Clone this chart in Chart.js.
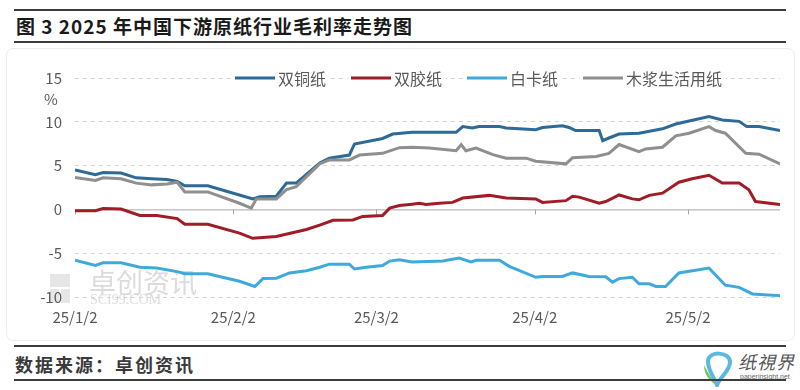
<!DOCTYPE html>
<html>
<head>
<meta charset="utf-8">
<script src="https://cdn.jsdelivr.net/npm/chart.js@4.4.1/dist/chart.umd.min.js"></script>
<style>
    body { margin: 0; background: #fff; width: 800px; height: 390px; position: relative; overflow: hidden;
           font-family: "Noto Sans CJK SC", "Noto Sans", sans-serif; }
    .rule { position: absolute; left: 14px; width: 772px; height: 2px; background: #3c3c3c; }
    #title { position: absolute; left: 16px; top: 13px; font-size: 19px; letter-spacing: 1px; font-weight: bold; color: #1a1a1a; line-height: 26px; }
    #frame { position: absolute; left: 6px; top: 48px; width: 787px; height: 291px; border: 1px solid #ededed; border-radius: 7px; }
    #chartBox { position: absolute; left: 0; top: 45px; width: 800px; height: 300px; }
    #source { position: absolute; left: 15px; top: 351px; font-size: 18px; letter-spacing: 2px; font-weight: bold; color: #3a3a3a; line-height: 26px; }
    #logo { position: absolute; left: 700px; top: 349px; width: 95px; height: 38px; }
    #logoText { position: absolute; left: 738px; top: 350px; font-size: 18px; letter-spacing: 1px; color: #555; font-style: italic; line-height: 22px; }
    #logoUrl { position: absolute; left: 740px; top: 373px; font-size: 7px; color: #666; font-family: "Liberation Sans", sans-serif; }
</style>
</head>
<body>
<div class="rule" style="top:9px"></div>
<div id="title">图 3 2025 年中国下游原纸行业毛利率走势图</div>
<div class="rule" style="top:41px"></div>
<div id="frame"></div>
<div id="chartBox"><canvas id="marginChart" width="800" height="300"></canvas></div>
<div class="rule" style="top:345px"></div>
<div id="source">数据来源：卓创资讯</div>
<svg id="logo" viewBox="0 0 95 38">
    <path d="M8 12 C8 2, 30 2, 30 13 C30 22, 20 28, 17 36 C14 28, 8 22, 8 12 Z" fill="none" stroke="#5bb8e0" stroke-width="4"/>
    <path d="M4 16 C8 24, 12 30, 16 36 C10 32, 4 26, 4 16 Z" fill="#7cc45a"/>
</svg>
<div id="logoText">纸視界</div>
<div id="logoUrl">paperinsight.net</div>
<div class="rule" style="top:379px"></div>

<script>
// days counted from 2025-01-02
const xTickDays = [0, 31, 59, 90, 120];
const xTickLabels = ['25/1/2', '25/2/2', '25/3/2', '25/4/2', '25/5/2'];
const seriesNames = ['双铜纸', '双胶纸', '白卡纸', '木浆生活用纸'];

const tongDays = [0, 4, 5.5, 9, 12, 15, 18, 20, 21.5, 26, 32, 34.8, 36.2, 39.4, 41.4, 43.3, 47.9, 49.8, 53.7, 54.7,
    60.2, 62.2, 66, 74.6, 75.9, 77.8, 79.1, 83.1, 84.4, 90.2, 91.5, 95.4, 96.7, 98, 102.6, 103.3, 104.5, 106.5, 110.4, 115,
    117.6, 120.2, 124.1, 126.7, 130, 131.5, 133.9, 138];
const tongVals = [4.5, 3.95, 4.2, 4.15, 3.6, 3.5, 3.4, 3.2, 2.7, 2.7, 1.67, 1.2, 1.45, 1.5, 3.0, 3.0, 5.3, 5.85, 6.2, 7.45,
    8.1, 8.6, 8.8, 8.8, 9.45, 9.3, 9.45, 9.45, 9.3, 9.1, 9.35, 9.55, 9.35, 9.0, 9.0, 7.85, 8.15, 8.6, 8.7, 9.2,
    9.75, 10.1, 10.6, 10.2, 10.05, 9.45, 9.45, 9.0];

const jiaoDays = [0, 4, 5.5, 9, 12.7, 16, 20, 21.5, 26, 32.2, 34.8, 39.4, 45.3, 47.9, 50.5, 54.4, 56.3, 60.2, 61.6, 63.5,
    66, 67.4, 68.7, 71.3, 73.9, 75.9, 81.1, 84.4, 90.2, 91.5, 96.1, 97.4, 98.7, 102.6, 103.9, 106.5, 109.1, 110.4, 112.4, 115,
    118.2, 120.8, 124.1, 126.7, 130, 131.9, 133.2, 138];
const jiaoVals = [-0.15, -0.15, 0.1, 0.05, -0.7, -0.7, -1.05, -1.7, -1.7, -2.7, -3.3, -3.1, -2.3, -1.8, -1.25, -1.2, -0.8, -0.7, 0.15, 0.45,
    0.6, 0.7, 0.55, 0.7, 0.8, 1.3, 1.6, 1.3, 1.2, 0.8, 1.0, 1.5, 1.4, 0.7, 0.9, 1.65, 1.2, 1.1, 1.6, 1.85,
    3.1, 3.5, 3.9, 3.0, 3.0, 2.25, 0.9, 0.55];

const baikaDays = [0, 4, 5.5, 9, 12.7, 16, 20, 21.5, 26, 32.2, 35.2, 36.8, 39.4, 42, 45.3, 47.9, 49.8, 53.7, 54.7, 57,
    60.2, 61.6, 63.5, 66, 72, 75.2, 77.5, 78.5, 83.1, 85, 90.2, 91.5, 95.4, 97.4, 100.6, 103.9, 105.2, 106.5, 109.1, 110.4,
    112.4, 113.7, 115.6, 118.2, 124.1, 127.3, 130, 132.6, 138];
const baikaVals = [-5.8, -6.4, -6.1, -6.1, -6.6, -6.7, -7.1, -7.35, -7.35, -8.2, -8.8, -7.9, -7.85, -7.25, -7.0, -6.6, -6.25, -6.25, -6.8, -6.6,
    -6.4, -5.9, -5.75, -6.0, -5.9, -5.55, -6.0, -5.8, -5.8, -6.5, -7.75, -7.65, -7.65, -7.25, -7.65, -7.7, -8.3, -7.9, -7.75, -8.5,
    -8.5, -8.8, -8.8, -7.25, -6.7, -8.65, -8.9, -9.65, -9.85];

const mujiangDays = [0, 4, 5.5, 9, 12, 15, 18, 20, 21.5, 26, 32.2, 34.5, 35.5, 39.4, 41.4, 43.3, 47.9, 49.8, 53.7, 55.7,
    60.2, 63.5, 66, 69.4, 74.6, 75.6, 76.5, 78.5, 81.8, 84.4, 88.3, 90.2, 96.1, 97.4, 102, 104.5, 106.5, 110.4, 111.7, 115,
    117.6, 120.2, 124.1, 125.4, 127.3, 131.3, 133.9, 138];
const mujiangVals = [3.65, 3.3, 3.6, 3.5, 3.0, 2.8, 2.9, 3.1, 2.0, 2.0, 0.7, 0.15, 1.2, 1.2, 2.25, 2.6, 5.2, 5.65, 5.65, 6.2,
    6.4, 7.05, 7.1, 7.0, 6.7, 7.4, 6.7, 7.0, 6.25, 5.85, 5.85, 5.5, 5.2, 5.9, 6.05, 6.4, 7.4, 6.6, 6.9, 7.1,
    8.4, 8.7, 9.45, 9.0, 8.7, 6.4, 6.3, 5.2];

const colors = ['#2d6a96', '#a01c26', '#3eaadc', '#8f8f8f'];
const textColor = '#595959';
const fontFamily = '"Noto Sans CJK SC", "Noto Sans", sans-serif';

function toPoints(days, vals) {
    return days.map((d, i) => ({ x: d, y: vals[i] }));
}

// watermark, zero line with month ticks, the "%" unit and the legend
const backdrop = {
    id: 'backdrop',
    beforeDraw(chart) {
        const { ctx } = chart;
        ctx.save();
        ctx.fillStyle = '#e6e6e6';
        ctx.fillRect(50, 229, 20, 13);
        ctx.fillRect(50, 244, 9, 14);
        ctx.fillRect(61, 244, 9, 14);
        ctx.fillStyle = '#dcdcdc';
        ctx.textBaseline = 'middle';
        ctx.font = '27px ' + fontFamily;
        ctx.fillText('卓创资讯', 89, 238);
        ctx.font = '14px "Liberation Serif", serif';
        ctx.fillText('SCI99.COM', 90, 255);
        ctx.restore();
    },
    beforeDatasetsDraw(chart) {
        const { ctx, chartArea, scales } = chart;
        ctx.save();
        const y0 = scales.y.getPixelForValue(0);
        ctx.strokeStyle = '#a6a6a6';
        ctx.lineWidth = 1;
        ctx.beginPath();
        ctx.moveTo(chartArea.left, y0 + 0.5);
        ctx.lineTo(chartArea.right, y0 + 0.5);
        xTickDays.forEach(d => {
            const x = Math.round(scales.x.getPixelForValue(d)) + 0.5;
            ctx.moveTo(x, y0);
            ctx.lineTo(x, y0 + 5);
        });
        ctx.stroke();
        ctx.restore();
    },
    afterDraw(chart) {
        const { ctx, scales } = chart;
        ctx.save();
        ctx.font = '15px ' + fontFamily;
        ctx.fillStyle = textColor;
        ctx.textAlign = 'center';
        ctx.textBaseline = 'middle';
        ctx.fillText('%', 51, scales.y.getPixelForValue(12.6));
        // legend sitting on the top gridline
        const y = scales.y.getPixelForValue(15);
        ctx.font = '16px ' + fontFamily;
        ctx.textAlign = 'left';
        let x = 235;
        chart.data.datasets.forEach(ds => {
            const w = ctx.measureText(ds.label).width;
            ctx.fillStyle = '#fff';
            ctx.fillRect(x - 3, y - 10, 40 + 4 + w + 6, 20);
            ctx.strokeStyle = ds.borderColor;
            ctx.lineWidth = 3;
            ctx.beginPath();
            ctx.moveTo(x, y);
            ctx.lineTo(x + 40, y);
            ctx.stroke();
            ctx.fillStyle = textColor;
            ctx.fillText(ds.label, x + 43, y + 1);
            x += 43 + w + 25;
        });
        ctx.restore();
    }
};

const allDays = [tongDays, jiaoDays, baikaDays, mujiangDays];
const allVals = [tongVals, jiaoVals, baikaVals, mujiangVals];

new Chart(document.getElementById('marginChart').getContext('2d'), {
    type: 'line',
    data: {
        datasets: seriesNames.map((name, i) => ({
            label: name,
            data: toPoints(allDays[i], allVals[i]),
            borderColor: colors[i],
            backgroundColor: colors[i],
            borderWidth: 3,
            pointRadius: 0,
            tension: 0,
            order: 4 - i
        }))
    },
    options: {
        responsive: false,
        animation: false,
        events: [],
        layout: { padding: { top: 33, right: 20, bottom: 8, left: 0 } },
        plugins: {
            legend: { display: false },
            tooltip: { enabled: false }
        },
        scales: {
            x: {
                type: 'linear',
                min: 0,
                max: 138,
                afterBuildTicks(scale) {
                    scale.ticks = xTickDays.map(v => ({ value: v }));
                },
                afterFit(scale) { scale.height = 40; },
                grid: { display: false, drawTicks: false },
                border: { display: false },
                ticks: {
                    autoSkip: false,
                    maxRotation: 0,
                    padding: 11,
                    color: textColor,
                    font: { size: 15, family: fontFamily },
                    callback: (v) => xTickLabels[xTickDays.indexOf(v)]
                }
            },
            y: {
                min: -10,
                max: 15,
                afterFit(scale) { scale.width = 75; },
                grid: {
                    drawTicks: false,
                    color: (c) => c.tick && c.tick.value === 0 ? 'rgba(0,0,0,0)' : '#d4d4d4'
                },
                border: { display: false, dash: [4, 4] },
                ticks: {
                    stepSize: 5,
                    padding: 13,
                    color: textColor,
                    font: { size: 15, family: fontFamily }
                }
            }
        }
    },
    plugins: [backdrop]
});
</script>
</body>
</html>
